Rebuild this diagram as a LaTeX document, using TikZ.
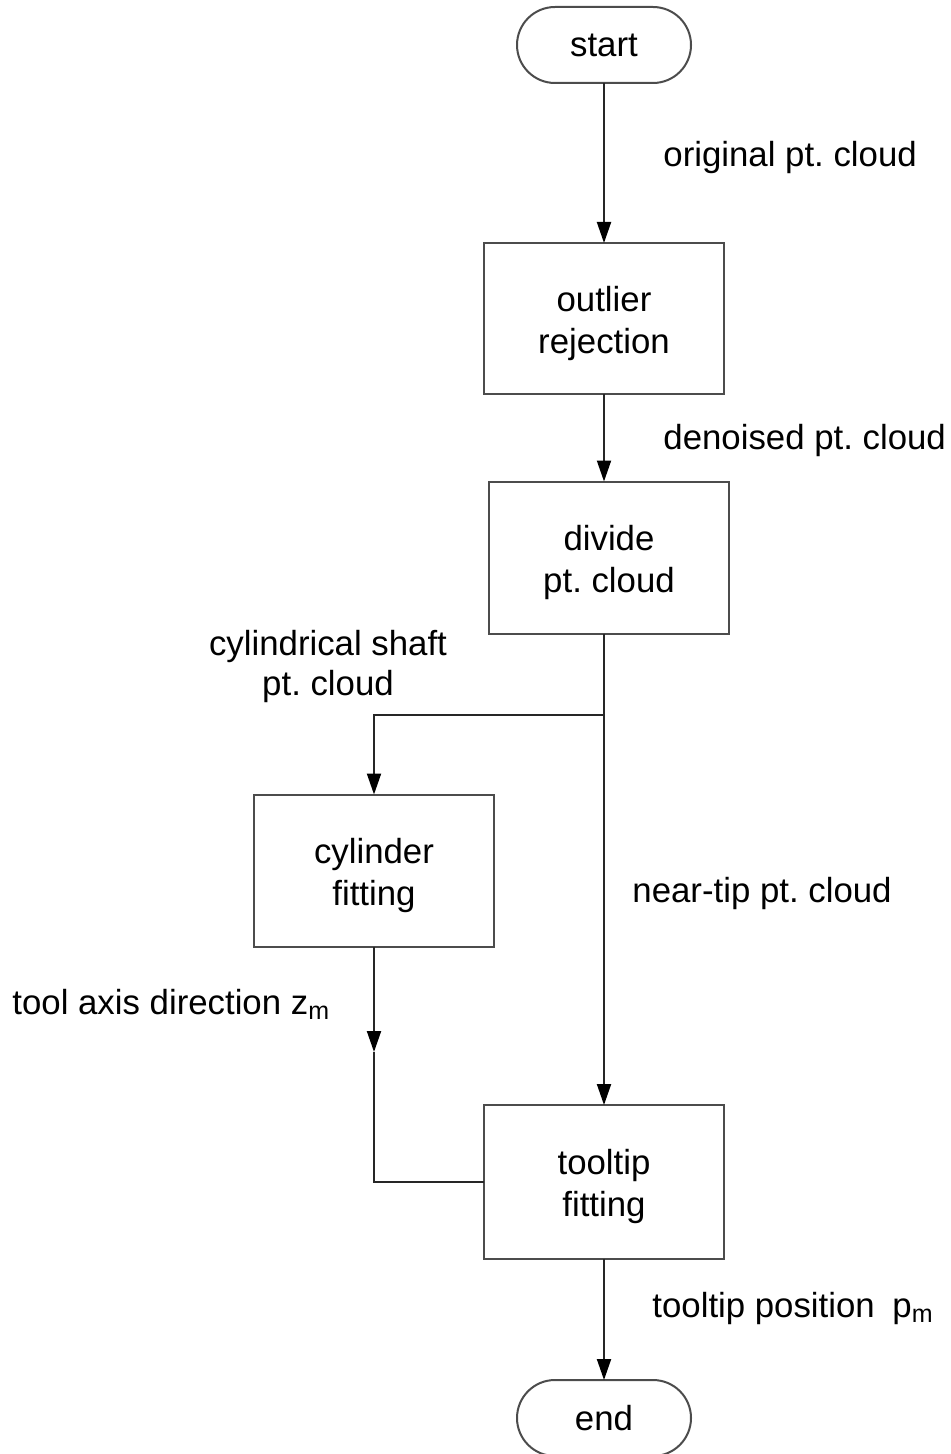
\documentclass[tikz,border=0pt]{standalone}
\usepackage{fontspec}
\setmainfont{Liberation Sans}
\usetikzlibrary{arrows.meta}
\frenchspacing
\newcommand\firststrut{\rule{0pt}{17.5pt}}
\newcommand\lowsub[1]{\raisebox{-2.5pt}{\fontsize{12.5}{12.5}\selectfont #1}}
\begin{document}
\begin{tikzpicture}[x=0.5pt,y=-0.5pt,
  font=\fontsize{17.4}{21}\selectfont\frenchspacing,
  proc/.style={draw=black!70, line width=1pt, minimum width=120pt, minimum height=76pt,
    inner sep=0pt, outer sep=0pt, align=center},
  term/.style={draw=black!70, line width=1pt, rounded corners=19pt, minimum width=87pt,
    minimum height=38pt, inner sep=0pt, outer sep=0pt},
  conn/.style={draw=black!85, line width=1pt},
  arr/.style={conn, -{Triangle[length=10.5pt,width=7pt,color=black]}},
  lbl/.style={inner sep=0pt, anchor=base west},
]
\useasboundingbox (0,0) rectangle (950,1454);

% nodes
\node[term] (start) at (604,45) {start};
\node[proc, minimum height=75.5pt] (outl) at (604,318.5) {\firststrut outlier\\rejection};
\node[proc] (div) at (609,557.5) {\firststrut divide\\pt. cloud};
\node[proc] (cyl) at (374,870.5) {\firststrut cylinder\\fitting};
\node[proc, minimum height=77pt] (tip) at (604,1182) {\firststrut tooltip\\fitting};
\node[term] (end) at (604,1418) {end};

% connectors
\draw[arr] (start) -- (outl);
\draw[arr] (outl) -- (outl.south |- div.north);
\coordinate (br) at (604,715);
\draw[conn] (br |- div.south) -- (br);
\draw[arr] (br) -- (tip);
\draw[arr] (br) -| (cyl);
\coordinate (za) at (374,1052);
\draw[arr] (cyl) -- (za);
\draw[conn] (za) |- (tip);
\draw[arr] (tip) -- (end);

% labels
\node[lbl] (l1) at (663,167) {original pt. cloud};
\node[lbl] (l2) at (663,450) {denoised pt. cloud};
\node[align=center, inner sep=0pt, font=\fontsize{17.4}{20}\selectfont\frenchspacing] (l3) at (328,666) {cylindrical shaft\\pt. cloud};
\node[lbl] (l4) at (632,902) {near-tip pt. cloud};
\node[lbl] (l5) at (12,1014) {tool axis direction z\lowsub{m}};
\node[lbl] (l6) at (652,1317) {tooltip position\hspace{4pt} p\lowsub{m}};
\end{tikzpicture}
\end{document}
